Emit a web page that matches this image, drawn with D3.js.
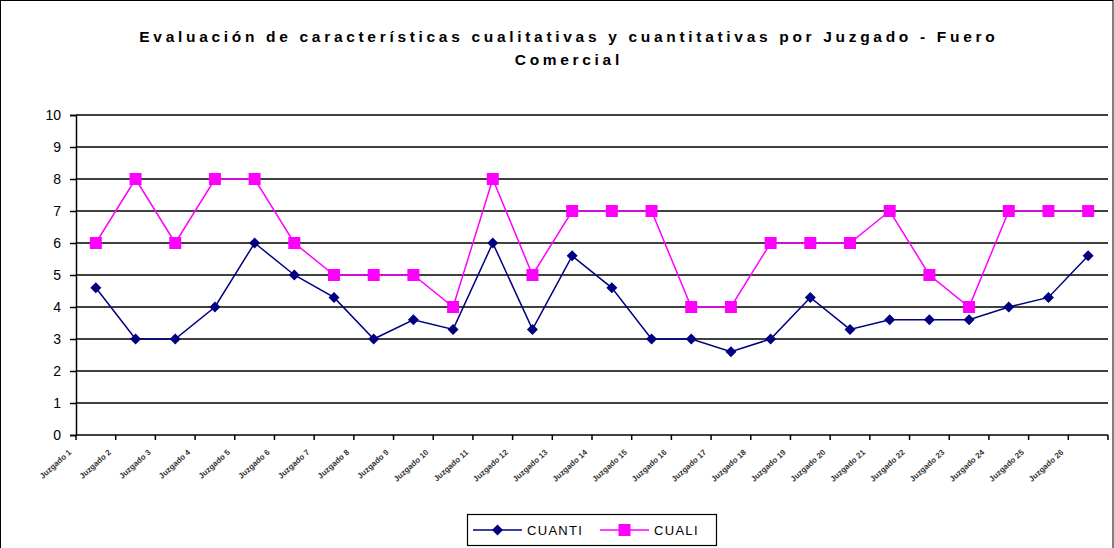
<!DOCTYPE html>
<html><head><meta charset="utf-8">
<script src="https://cdn.jsdelivr.net/npm/d3@7"></script>
<style>body{margin:0;background:#fff}svg{display:block}</style>
</head><body>
<script>
const categories = Array.from({length:26},(_,i)=>"Juzgado "+(i+1));
const cuanti = [4.6,3,3,4,6,5,4.3,3,3.6,3.3,6,3.3,5.6,4.6,3,3,2.6,3,4.3,3.3,3.6,3.6,3.6,4,4.3,5.6];
const cuali  = [6,8,6,8,8,6,5,5,5,4,8,5,7,7,7,4,4,6,6,6,7,5,4,7,7,7];
const yTicks = [0,1,2,3,4,5,6,7,8,9,10];
const titleLines = ["Evaluación de características cualitativas y cuantitativas por Juzgado - Fuero","Comercial"];

const W=1114,H=548;
const FONT="Liberation Sans, Arial, sans-serif";
const svg=d3.select("body").append("svg").attr("width",W).attr("height",H);
svg.append("rect").attr("x",0.5).attr("y",0.5).attr("width",W-1.5).attr("height",H+10)
  .attr("fill","#fff").attr("stroke","#000").attr("stroke-width",1);

const L=76,R=1108,T=115,B=435;
const x=d3.scaleBand().domain(categories).range([L,R]);
const y=d3.scaleLinear().domain([0,10]).range([B,T]);

// title
const tt=svg.append("g").selectAll("text").data(titleLines).join("text")
  .attr("x",567).attr("y",(d,i)=>42+i*23).attr("text-anchor","middle")
  .attr("font-family","Liberation Sans Narrow, Arial Narrow, Liberation Sans, sans-serif").attr("font-weight","bold")
  .attr("font-size",15.5).attr("fill","#000").text(d=>d);
const n0=tt.nodes()[0];
const w0=n0.getComputedTextLength();
const ls=(859-w0)/(titleLines[0].length);
tt.attr("letter-spacing",ls+"px").attr("x",567+ls/2);

// grid
svg.append("g").selectAll("line").data(yTicks.filter(d=>d>0)).join("line")
  .attr("x1",L).attr("x2",R).attr("y1",d=>y(d)).attr("y2",d=>y(d))
  .attr("stroke","#000").attr("stroke-width",1.5);

// y axis
const ya=svg.append("g").attr("transform",`translate(${L},0)`)
  .call(d3.axisLeft(y).tickValues(yTicks).tickSize(6).tickPadding(9).tickFormat(d3.format("d")));
ya.select(".domain").attr("stroke","#000").attr("stroke-width",1.5);
ya.selectAll(".tick line").attr("stroke","#000").attr("stroke-width",1.5);
ya.selectAll("text").attr("font-family",FONT).attr("font-size",14).attr("fill","#000");

// x axis
svg.append("line").attr("x1",L).attr("x2",R).attr("y1",B).attr("y2",B).attr("stroke","#000").attr("stroke-width",1.5);
const edges=categories.map(c=>x(c)).concat([R]);
svg.append("g").selectAll("line").data(edges).join("line")
  .attr("x1",d=>d).attr("x2",d=>d).attr("y1",B).attr("y2",B+5).attr("stroke","#000").attr("stroke-width",1.5);
svg.append("g").selectAll("text").data(categories).join("text")
  .attr("transform",d=>`translate(${x(d)+x.bandwidth()/2-24},${B+18}) rotate(-42)`)
  .attr("text-anchor","end").attr("font-family",FONT).attr("font-weight","bold")
  .attr("font-size",8).attr("fill","#333").text(d=>d);

// lines
const line=d3.line().x((d,i)=>x(categories[i])+x.bandwidth()/2).y(d=>y(d));
svg.append("path").datum(cuanti).attr("d",line).attr("fill","none").attr("stroke","#000080").attr("stroke-width",1.5);
svg.append("path").datum(cuali).attr("d",line).attr("fill","none").attr("stroke","#FF00FF").attr("stroke-width",1.5);

const diamond="M0,-5.5L5.5,0L0,5.5L-5.5,0Z";
svg.append("g").selectAll("path").data(cuanti).join("path")
  .attr("transform",(d,i)=>`translate(${x(categories[i])+x.bandwidth()/2},${y(d)})`)
  .attr("d",diamond).attr("fill","#000080");
svg.append("g").selectAll("rect").data(cuali).join("rect")
  .attr("x",(d,i)=>x(categories[i])+x.bandwidth()/2-6).attr("y",d=>y(d)-6)
  .attr("width",12).attr("height",12).attr("fill","#FF00FF");

// legend
const lg=svg.append("g");
lg.append("rect").attr("x",467.5).attr("y",514.5).attr("width",249).attr("height",31)
  .attr("fill","#fff").attr("stroke","#000").attr("stroke-width",1.2);
const legendItems=[{name:"CUANTI",color:"#000080",x:473,type:"d"},{name:"CUALI",color:"#FF00FF",x:600,type:"s"}];
legendItems.forEach(it=>{
  lg.append("line").attr("x1",it.x).attr("x2",it.x+49).attr("y1",530).attr("y2",530).attr("stroke",it.color).attr("stroke-width",1.5);
  if(it.type==="d") lg.append("path").attr("transform",`translate(${it.x+24.5},530)`).attr("d",diamond).attr("fill",it.color);
  else lg.append("rect").attr("x",it.x+24.5-6).attr("y",524).attr("width",12).attr("height",12).attr("fill",it.color);
  lg.append("text").attr("x",it.x+54).attr("y",535).attr("font-family",FONT)
    .attr("font-size",13).attr("letter-spacing","1.3px").attr("fill","#000").text(it.name);
});
</script>
</body></html>
